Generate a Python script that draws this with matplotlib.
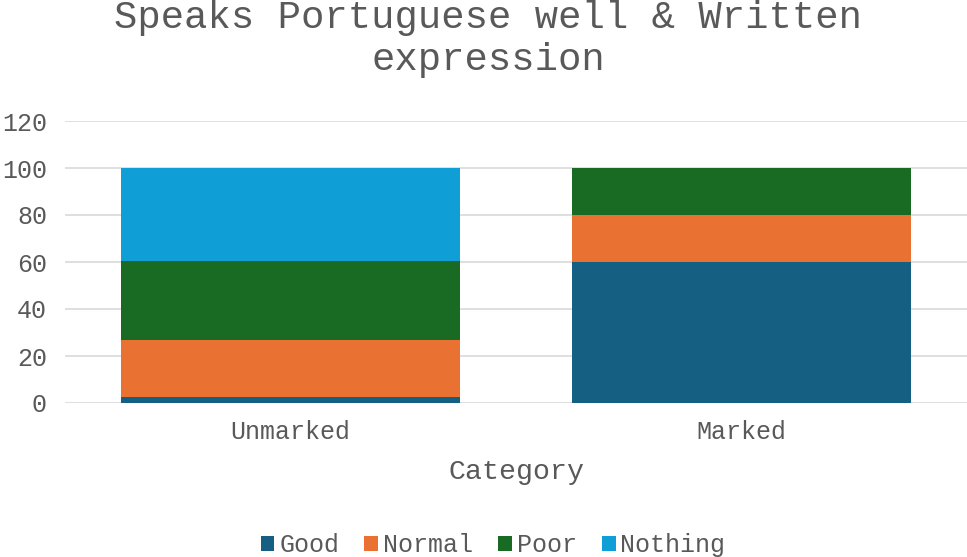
import matplotlib.pyplot as plt
import numpy as np

categories = ["Unmarked", "Marked"]
series = ["Good", "Normal", "Poor", "Nothing"]
good = [2.7, 60]
normal = [24.3, 20]
poor = [33.3, 20]
nothing = [39.7, 0]
colors = ["#156082", "#E97132", "#196B24", "#0F9ED5"]
y_ticks = [0, 20, 40, 60, 80, 100, 120]

TEXT = "#595959"
FONT = ["Liberation Mono", "DejaVu Sans Mono"]

plt.rcParams["font.family"] = FONT

W, H = 967, 557
fig = plt.figure(figsize=(W / 100, H / 100), dpi=100)
ax = fig.add_axes([65 / W, (H - 403) / H, 902 / W, (403 - 121) / H])

x = np.arange(len(categories))
bottom = np.zeros(len(categories))
for name, vals, c in zip(series, [good, normal, poor, nothing], colors):
    ax.bar(x, vals, width=0.75, bottom=bottom, color=c, label=name, zorder=3)
    bottom += np.array(vals)

ax.set_xlim(-0.5, 1.5)
ax.set_ylim(0, 120)
ax.set_yticks(y_ticks)
ax.set_xticks(x)
ax.set_xticklabels(categories)
ax.tick_params(axis="both", length=0, colors=TEXT, labelsize=18)
ax.tick_params(axis="y", pad=13)
ax.tick_params(axis="x", pad=12)
ax.grid(axis="y", color="#d9d9d9", lw=1.2, zorder=0)
for s in ax.spines.values():
    s.set_visible(False)

ax.set_xlabel("Category", fontsize=20.3, color=TEXT, labelpad=11)

fig.text(488 / W, 1 - 39 / H, "Speaks Portuguese well & Written\nexpression",
         ha="center", va="center", fontsize=28, color=TEXT, linespacing=1.2)

handles, labels = ax.get_legend_handles_labels()
fig.legend(handles, labels, loc="center", bbox_to_anchor=(493 / W, 1 - 545 / H),
           ncol=4, frameon=False, fontsize=18, labelcolor=TEXT,
           handlelength=0.55, handleheight=0.55, handletextpad=0.2, columnspacing=1.0)

plt.savefig("out.png", dpi=100)
plt.close()
